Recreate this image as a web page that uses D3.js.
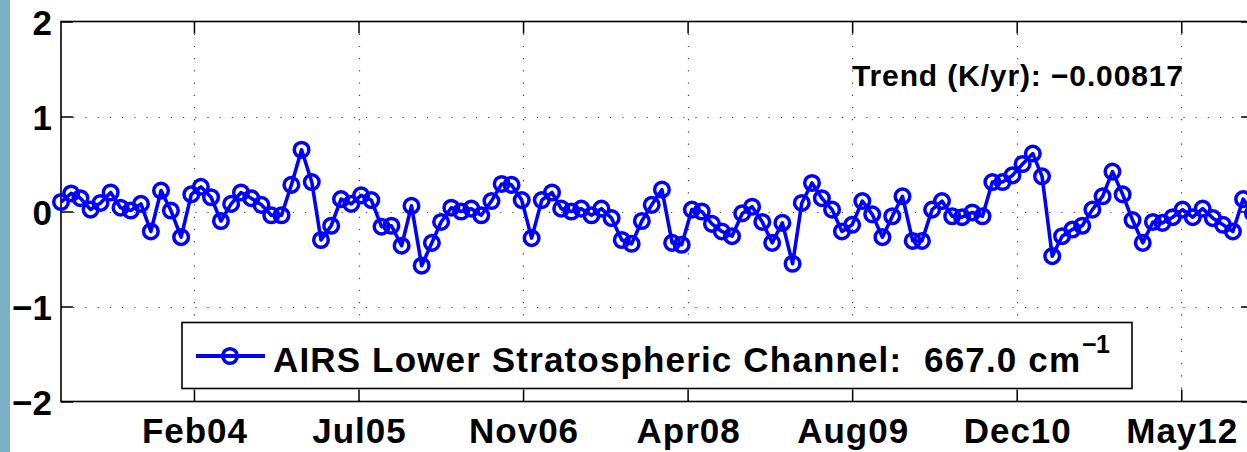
<!DOCTYPE html>
<html>
<head>
<meta charset="utf-8">
<script src="https://cdn.jsdelivr.net/npm/d3@7"></script>
<style>
  html, body { margin: 0; padding: 0; background: #fff; overflow: hidden; }
  svg { display: block; font-family: "Liberation Sans", Arial, Helvetica, sans-serif; font-weight: bold; }
  text { white-space: pre; }
</style>
</head>
<body>
<svg id="chart" width="1247" height="452"></svg>
<script>
// Monthly brightness-temperature anomalies (K), mid-month samples from Jan 2003
const firstMonth = "2003-01-15";
const anomalies = [
  0.10, 0.19, 0.14, 0.02, 0.09, 0.20, 0.04, 0.01, 0.08, -0.21,
  0.22, 0.01, -0.27, 0.18, 0.26, 0.15, -0.10, 0.08, 0.20, 0.14,
  0.07, -0.04, -0.04, 0.28, 0.65, 0.31, -0.30, -0.15, 0.13, 0.08,
  0.17, 0.12, -0.16, -0.15, -0.36, 0.06, -0.57, -0.33, -0.11, 0.04,
  0.00, 0.03, -0.04, 0.11, 0.29, 0.28, 0.12, -0.28, 0.12, 0.20,
  0.03, 0.00, 0.03, -0.04, 0.03, -0.07, -0.30, -0.34, -0.10, 0.07,
  0.23, -0.33, -0.35, 0.02, 0.00, -0.13, -0.21, -0.26, -0.02, 0.05,
  -0.11, -0.33, -0.12, -0.55, 0.09, 0.30, 0.14, 0.02, -0.21, -0.14,
  0.11, -0.03, -0.27, -0.05, 0.16, -0.31, -0.31, 0.02, 0.11, -0.05,
  -0.06, -0.01, -0.05, 0.31, 0.31, 0.38, 0.50, 0.61, 0.37, -0.47,
  -0.26, -0.19, -0.15, 0.02, 0.16, 0.42, 0.18, -0.09, -0.33, -0.11,
  -0.12, -0.06, 0.02, -0.06, 0.03, -0.07, -0.14, -0.21, 0.13, -0.02
];

// Date ticks (every 500 days) and their labels
const xTickDates = ["2004-02-23", "2005-07-07", "2006-11-19", "2008-04-02", "2009-08-15", "2010-12-28", "2012-05-11"];
const xTickLabels = ["Feb04", "Jul05", "Nov06", "Apr08", "Aug09", "Dec10", "May12"];
const yTicks = [-2, -1, 0, 1, 2];
const yTickLabels = ["\u22122", "\u22121", "0", "1", "2"];

const seriesLabel = "AIRS Lower Stratospheric Channel:  667.0 cm";
const seriesLabelSup = "\u22121";
const trendLabel = "Trend (K/yr): \u22120.00817";

const parse = d3.utcParse("%Y-%m-%d");
const start = parse(firstMonth);
const points = anomalies.map((v, i) => ({ date: d3.utcMonth.offset(start, i), value: v }));

const svg = d3.select("#chart");
const W = 1247, H = 452;
const plot = { left: 61, right: 1253, top: 21.5, bottom: 401.5 };

const x = d3.scaleUtc()
  .domain([points[0].date, points[points.length - 1].date])
  .range([plot.left, plot.right]);
const y = d3.scaleLinear().domain([-2, 2]).range([plot.bottom, plot.top]);

// page edge strip
svg.append("rect").attr("x", 0).attr("y", 0).attr("width", 10).attr("height", H).attr("fill", "#7db0c6");

const tickDates = xTickDates.map(parse);

// dotted grid
const grid = svg.append("g").attr("stroke", "#444").attr("stroke-width", 1.2).attr("stroke-dasharray", "1.2,11");
grid.selectAll("line.gx").data(tickDates).join("line")
  .attr("x1", d => Math.round(x(d)) + 0.5).attr("x2", d => Math.round(x(d)) + 0.5)
  .attr("y1", plot.top).attr("y2", plot.bottom);
grid.selectAll("line.gy").data(yTicks.filter(t => t > -2 && t < 2)).join("line")
  .attr("x1", plot.left).attr("x2", plot.right)
  .attr("y1", d => Math.round(y(d)) + 0.5).attr("y2", d => Math.round(y(d)) + 0.5);

// axes: bottom/left with inward ticks, mirrored on top/right
const tickLen = 12;
const xAxisBottom = d3.axisBottom(x).tickValues(tickDates).tickSizeInner(-tickLen).tickSizeOuter(0)
  .tickFormat((d, i) => xTickLabels[i]).tickPadding(20);
const gxb = svg.append("g").attr("transform", `translate(0,${plot.bottom})`).call(xAxisBottom);
gxb.select(".domain").remove();
gxb.selectAll("text").attr("font-size", 35).attr("font-weight", "bold").attr("fill", "#000")
  .attr("letter-spacing", 1).attr("dx", 0.5)
  .attr("dy", null).attr("y", 41.5).attr("font-family", "Liberation Sans, Arial, sans-serif");
gxb.selectAll("line").attr("stroke", "#000").attr("stroke-width", 1.5);

const xAxisTop = d3.axisTop(x).tickValues(tickDates).tickSizeInner(-tickLen).tickSizeOuter(0).tickFormat("");
const gxt = svg.append("g").attr("transform", `translate(0,${plot.top})`).call(xAxisTop);
gxt.select(".domain").remove();
gxt.selectAll("line").attr("stroke", "#000").attr("stroke-width", 1.5);

const yAxisLeft = d3.axisLeft(y).tickValues(yTicks).tickSizeInner(-tickLen).tickSizeOuter(0)
  .tickFormat((d, i) => yTickLabels[i]).tickPadding(9);
const gyl = svg.append("g").attr("transform", `translate(${plot.left},0)`).call(yAxisLeft);
gyl.select(".domain").remove();
gyl.selectAll("text").attr("font-size", 35).attr("font-weight", "bold").attr("fill", "#000")
  .attr("dy", null).attr("y", 13).attr("font-family", "Liberation Sans, Arial, sans-serif");
gyl.selectAll("line").attr("stroke", "#000").attr("stroke-width", 1.5);

const yAxisRight = d3.axisRight(y).tickValues(yTicks).tickSizeInner(-tickLen).tickSizeOuter(0).tickFormat("");
const gyr = svg.append("g").attr("transform", `translate(${plot.right},0)`).call(yAxisRight);
gyr.select(".domain").remove();
gyr.selectAll("line").attr("stroke", "#000").attr("stroke-width", 1.5);

// plot box
svg.append("rect")
  .attr("x", plot.left).attr("y", plot.top)
  .attr("width", plot.right - plot.left).attr("height", plot.bottom - plot.top)
  .attr("fill", "none").attr("stroke", "#000").attr("stroke-width", 1.6);

// series line + open circle markers
const line = d3.line().x(d => x(d.date)).y(d => y(d.value));
svg.append("path").datum(points)
  .attr("d", line).attr("fill", "none").attr("stroke", "#0000ff")
  .attr("stroke-width", 3.6).attr("stroke-linejoin", "round");
svg.append("g").selectAll("circle").data(points).join("circle")
  .attr("cx", d => x(d.date)).attr("cy", d => y(d.value)).attr("r", 7.3)
  .attr("fill", "none").attr("stroke", "#0000ff").attr("stroke-width", 3.5);

// trend annotation
svg.append("text").attr("x", 852).attr("y", 86)
  .attr("font-size", 30).attr("textLength", 331).attr("lengthAdjust", "spacing")
  .attr("fill", "#000").text(trendLabel);

// legend
const lg = svg.append("g");
lg.append("rect").attr("x", 182).attr("y", 322.5).attr("width", 950).attr("height", 66)
  .attr("fill", "#fff").attr("stroke", "#000").attr("stroke-width", 1.6);
lg.append("line").attr("x1", 196).attr("x2", 265).attr("y1", 356).attr("y2", 356)
  .attr("stroke", "#0000ff").attr("stroke-width", 4);
lg.append("circle").attr("cx", 230).attr("cy", 356).attr("r", 7.3)
  .attr("fill", "none").attr("stroke", "#0000ff").attr("stroke-width", 3.5);
lg.append("text").attr("x", 273).attr("y", 372).attr("font-size", 35)
  .attr("textLength", 807).attr("lengthAdjust", "spacing").attr("fill", "#000").text(seriesLabel);
lg.append("text").attr("x", 1082).attr("y", 353).attr("font-size", 25)
  .attr("textLength", 28).attr("lengthAdjust", "spacing").attr("fill", "#000").text(seriesLabelSup);
</script>
</body>
</html>
